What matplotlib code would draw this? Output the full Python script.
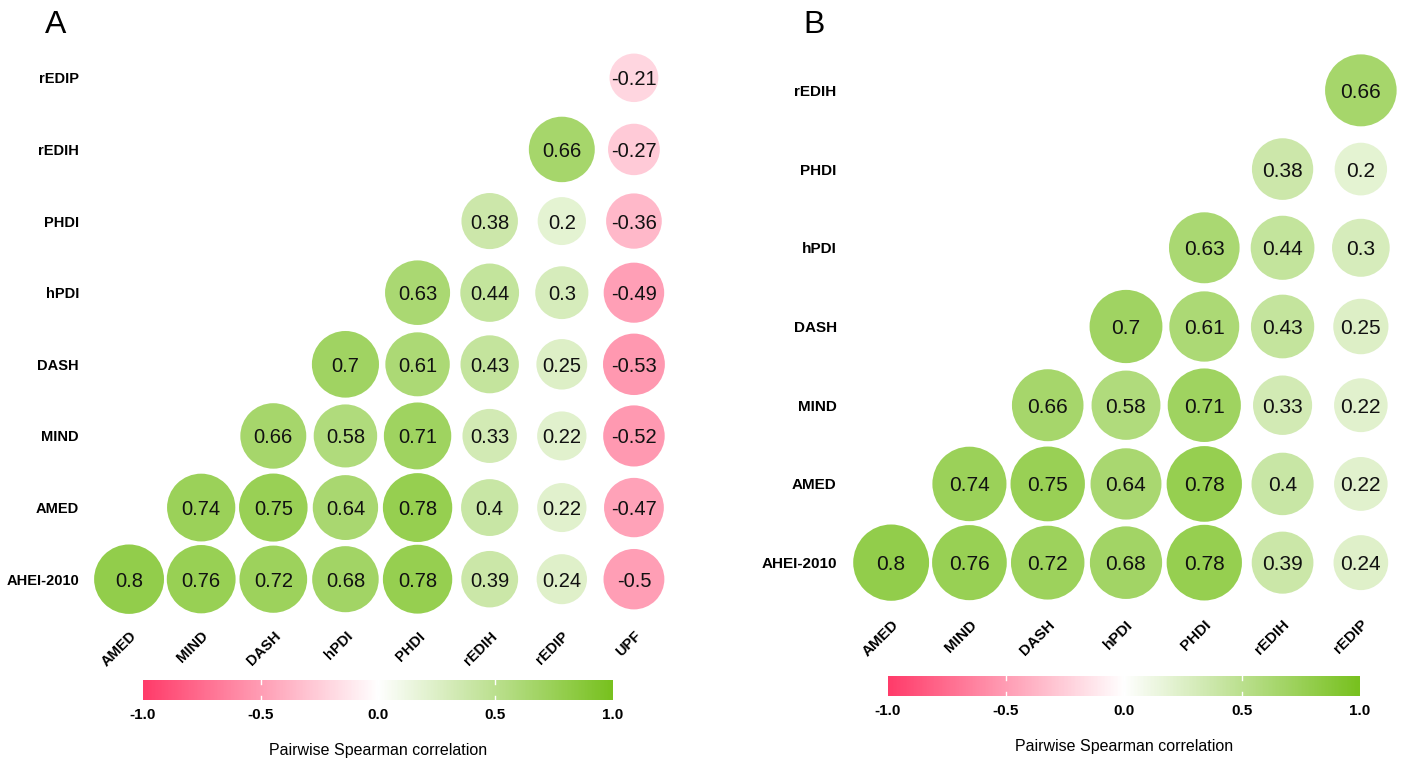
import matplotlib
matplotlib.use('Agg')
import matplotlib.pyplot as plt
import numpy as np
from matplotlib.colors import LinearSegmentedColormap
from matplotlib.patches import Circle

plt.rcParams['font.family'] = ['Liberation Sans', 'DejaVu Sans']

# Panel A: rows listed bottom -> top, each row holds the values from its diagonal cell to the right
rows_a = ['AHEI-2010', 'AMED', 'MIND', 'DASH', 'hPDI', 'PHDI', 'rEDIH', 'rEDIP']
cols_a = ['AMED', 'MIND', 'DASH', 'hPDI', 'PHDI', 'rEDIH', 'rEDIP', 'UPF']
vals_a = [
    [0.8, 0.76, 0.72, 0.68, 0.78, 0.39, 0.24, -0.5],
    [0.74, 0.75, 0.64, 0.78, 0.4, 0.22, -0.47],
    [0.66, 0.58, 0.71, 0.33, 0.22, -0.52],
    [0.7, 0.61, 0.43, 0.25, -0.53],
    [0.63, 0.44, 0.3, -0.49],
    [0.38, 0.2, -0.36],
    [0.66, -0.27],
    [-0.21],
]

# Panel B
rows_b = ['AHEI-2010', 'AMED', 'MIND', 'DASH', 'hPDI', 'PHDI', 'rEDIH']
cols_b = ['AMED', 'MIND', 'DASH', 'hPDI', 'PHDI', 'rEDIH', 'rEDIP']
vals_b = [
    [0.8, 0.76, 0.72, 0.68, 0.78, 0.39, 0.24],
    [0.74, 0.75, 0.64, 0.78, 0.4, 0.22],
    [0.66, 0.58, 0.71, 0.33, 0.22],
    [0.7, 0.61, 0.43, 0.25],
    [0.63, 0.44, 0.3],
    [0.38, 0.2],
    [0.66],
]

cmap = LinearSegmentedColormap.from_list('rg', ['#FF3C6A', '#FFFFFF', '#78C11F'])
norm = plt.Normalize(-1, 1)

W, H = 1405, 762
fig = plt.figure(figsize=(W / 100, H / 100), dpi=100)


def px_rect(left, top, right, bottom):
    return [left / W, (H - bottom) / H, (right - left) / W, (bottom - top) / H]


def draw_panel(rect, rows, cols, vals, txt_size, lab_size, pad):
    ax = fig.add_axes(rect)
    n = len(cols)
    for i, row in enumerate(vals):
        start = n - len(row)
        for k, r in enumerate(row):
            j = start + k
            d = 0.37 + 0.67 * np.sqrt(abs(r))
            ax.add_patch(Circle((j, i), d / 2, facecolor=cmap(norm(r)), edgecolor='none'))
            ax.text(j, i, f'{r:g}', ha='center', va='center_baseline', fontsize=txt_size,
                    color='#111111')
    ax.set_xlim(-0.5, n - 0.5)
    ax.set_ylim(-0.5, len(rows) - 0.5)
    ax.set_xticks(range(n))
    ax.set_xticklabels(cols, rotation=45, ha='right', va='top', rotation_mode='anchor',
                       fontsize=lab_size, fontweight='bold')
    ax.set_yticks(range(len(rows)))
    ax.set_yticklabels(rows, fontsize=lab_size, fontweight='bold')
    ax.tick_params(length=0, pad=pad)
    for s in ax.spines.values():
        s.set_visible(False)
    return ax


def draw_bar(rect):
    cax = fig.add_axes(rect)
    grad = np.linspace(-1, 1, 400).reshape(1, -1)
    cax.imshow(grad, aspect='auto', cmap=cmap, norm=norm, extent=[-1, 1, 0, 1])
    for t in [-0.5, 0.0, 0.5]:
        cax.plot([t, t], [0, 0.2], color='white', lw=1)
        cax.plot([t, t], [0.8, 1], color='white', lw=1)
    cax.set_xlim(-1, 1)
    cax.set_ylim(0, 1)
    cax.set_yticks([])
    cax.set_xticks([-1, -0.5, 0, 0.5, 1])
    cax.set_xticklabels(['-1.0', '-0.5', '0.0', '0.5', '1.0'], fontsize=11, fontweight='bold')
    cax.tick_params(length=0, pad=6)
    for s in cax.spines.values():
        s.set_visible(False)
    cax.set_xlabel('Pairwise Spearman correlation', fontsize=11.5, labelpad=15)
    return cax


draw_panel(px_rect(93, 42, 670, 615), rows_a, cols_a, vals_a, 14.5, 10.5, 10)
draw_panel(px_rect(852, 51, 1400, 602), rows_b, cols_b, vals_b, 15, 11, 11)

draw_bar(px_rect(143, 680, 613, 700))
draw_bar(px_rect(888, 676, 1360, 696))

fig.text(45 / W, (H - 33) / H, 'A', fontsize=23, ha='left', va='baseline')
fig.text(803 / W, (H - 33) / H, 'B', fontsize=23, ha='left', va='baseline')

fig.savefig('out.png', dpi=100)
